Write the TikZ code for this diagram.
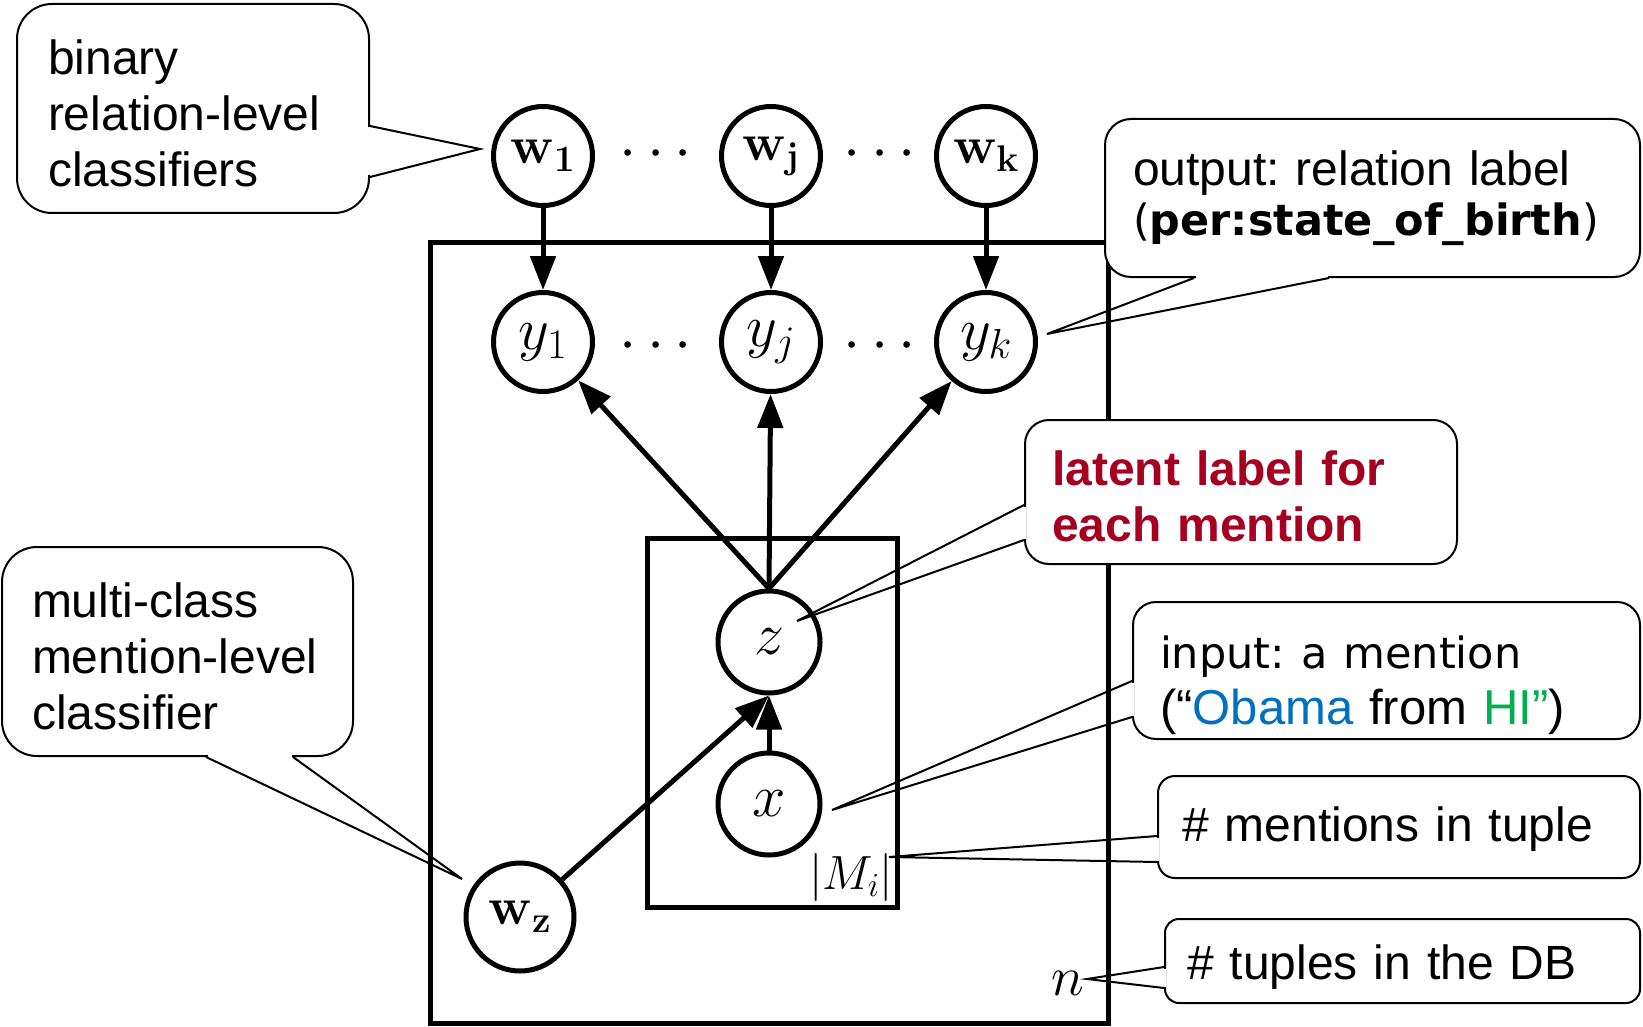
\RequirePackage{fix-cm}
\documentclass[tikz,border=0pt]{standalone}
\usepackage[no-math]{fontspec}
\setmainfont{Liberation Sans}
\newfontfamily\lucida{DejaVu Sans}
\usetikzlibrary{arrows.meta}
\definecolor{latentred}{RGB}{165,0,33}
\definecolor{obamablue}{RGB}{0,112,192}
\definecolor{higreen}{RGB}{0,176,80}
\frenchspacing

\begin{document}
\begin{tikzpicture}[x=1pt, y=-1pt,
    var/.style={draw, circle, line width=5pt, fill=white, minimum size=99pt, inner sep=0pt, font=\fontsize{60}{60}\selectfont},
    wvar/.style={var, font=\fontsize{53}{53}\selectfont},
    plate/.style={line width=5pt},
    edge/.style={line width=5pt, -{Triangle[length=34pt, width=25pt]}},
    dots/.style={font=\fontsize{62}{62}\selectfont},
    callbox/.style={draw, fill=white, line width=2pt, align=left, inner ysep=4pt, font=\fontsize{48}{56}\selectfont},
    tailgap/.style={white, line width=4pt, shorten >=1.5pt, shorten <=1.5pt},
    tail/.style={line width=2pt}]
    \useasboundingbox (0,0) rectangle (1643,1027);

    % プレート
    \draw[plate] (430,242) rectangle (1108,1023);
    \draw[plate] (647,538) rectangle (897,907);

    % 変数ノード
    \node[wvar] (w1) at (543,156) {$\mathbf{w_1}$};
    \node[wvar] (wj) at (771,156) {$\mathbf{w_j}$};
    \node[wvar] (wk) at (986,156) {$\mathbf{w_k}$};
    \node[var] (y1) at (543,342) {$y_1$};
    \node[var] (yj) at (771,342) {$y_j$};
    \node[var] (yk) at (986,342) {$y_k$};
    \node[var, minimum size=102pt] (z) at (769,642) {$z$};
    \node[var, minimum size=102pt] (x) at (769,804) {$x$};
    \node[wvar, minimum size=108pt] (wz) at (520,917) {$\mathbf{w_z}$};

    \node[dots] (dw1) at (656,155) {$\cdots$};
    \node[dots] (dw2) at (880,155) {$\cdots$};
    \node[dots] (dy1) at (656,347) {$\cdots$};
    \node[dots] (dy2) at (880,347) {$\cdots$};

    \node[font=\fontsize{48}{48}\selectfont] (mi) at (851,877) {$|M_i|$};
    \node[font=\fontsize{56}{56}\selectfont] (nl) at (1068,983) {$n$};

    % 矢印
    \draw[edge] (w1) -- (y1);
    \draw[edge] (wj) -- (yj);
    \draw[edge] (wk) -- (yk);
    \draw[edge] (z.north) -- (y1);
    \draw[edge] (z.north) -- (yj);
    \draw[edge] (z.north) -- (yk);
    \draw[edge] (x) -- (z);
    \draw[edge] (wz) -- (z.south);

    % 吹き出し
    \coordinate (tipw1) at (480,149);
    \coordinate (tipyk) at (1047,334);
    \coordinate (tipz) at (797,621);
    \coordinate (tipx) at (832,810);
    \coordinate (tipmi) at (889,857);
    \coordinate (tipn) at (1087,979);
    \coordinate (tipwz) at (462,879);

    \node[callbox, rounded corners=35pt, minimum width=352pt, minimum height=209pt, text width=290pt, inner xsep=31pt] (binbox) at (193,108.5) {\rule{0pt}{45pt}binary\\relation-level\\classifiers};
    \draw[tailgap] ([yshift=-17.5pt]binbox.east) -- ([yshift=-68.5pt]binbox.east);
    \draw[tail] ([yshift=-17.5pt]binbox.east) -- (tipw1) -- ([yshift=-68.5pt]binbox.east);

    \node[callbox, rounded corners=26pt, minimum width=535pt, minimum height=158pt, text width=479pt, inner xsep=28pt] (outbox) at (1372.5,198) {output: relation label\\[-6pt]{\lucida\fontsize{43}{50}\selectfont(\textbf{per:state\_of\_birth})}};
    \draw[tailgap] ([xshift=90pt]outbox.south west) -- ([xshift=225pt]outbox.south west);
    \draw[tail] ([xshift=90pt]outbox.south west) -- (tipyk) -- ([xshift=225pt]outbox.south west);

    \node[callbox, rounded corners=24pt, minimum width=432pt, minimum height=144pt, text width=378pt, inner xsep=27pt, text=latentred] (latbox) at (1241,492) {\bfseries\rule{0pt}{43pt}latent label for\\each mention};
    \draw[tailgap] ([yshift=-13pt]latbox.west) -- ([yshift=-48pt]latbox.west);
    \draw[tail] ([yshift=-13pt]latbox.west) -- (tipz) -- ([yshift=-48pt]latbox.west);

    \node[callbox, rounded corners=23pt, minimum width=507pt, minimum height=137pt, text width=453pt, inner xsep=27pt] (inbox) at (1386.5,670.5) {\rule{0pt}{62pt}{\lucida\fontsize{43}{56}\selectfont input: a mention}\\{\fontsize{49}{56}\selectfont(“\textcolor{obamablue}{Obama} from \textcolor{higreen}{HI”})}};
    \draw[tailgap] ([yshift=-10.5pt]inbox.west) -- ([yshift=-46.5pt]inbox.west);
    \draw[tail] ([yshift=-10.5pt]inbox.west) -- (tipx) -- ([yshift=-46.5pt]inbox.west);

    \node[callbox, rounded corners=17pt, minimum width=482pt, minimum height=102pt, text width=434pt, inner xsep=24pt] (menbox) at (1399,827) {\rule{0pt}{39pt}\# mentions in tuple};
    \draw[tailgap] ([yshift=-9pt]menbox.west) -- ([yshift=-35pt]menbox.west);
    \draw[tail] ([yshift=-9pt]menbox.west) -- (tipmi) -- ([yshift=-35pt]menbox.west);

    \node[callbox, rounded corners=14pt, minimum width=475pt, minimum height=84pt, text width=431pt, inner xsep=22pt] (tupbox) at (1402.5,961) {\rule{0pt}{47pt}\# tuples in the DB};
    \draw[tailgap] ([yshift=-6pt]tupbox.west) -- ([yshift=-27pt]tupbox.west);
    \draw[tail] ([yshift=-6pt]tupbox.west) -- (tipn) -- ([yshift=-27pt]tupbox.west);

    \node[callbox, rounded corners=35pt, minimum width=351pt, minimum height=209pt, text width=291pt, inner xsep=30pt] (mulbox) at (177.5,651.5) {\rule{0pt}{45pt}multi-class\\mention-level\\classifier};
    \draw[tailgap] ([xshift=205pt]mulbox.south west) -- ([xshift=292pt]mulbox.south west);
    \draw[tail] ([xshift=205pt]mulbox.south west) -- (tipwz) -- ([xshift=292pt]mulbox.south west);
\end{tikzpicture}
\end{document}
